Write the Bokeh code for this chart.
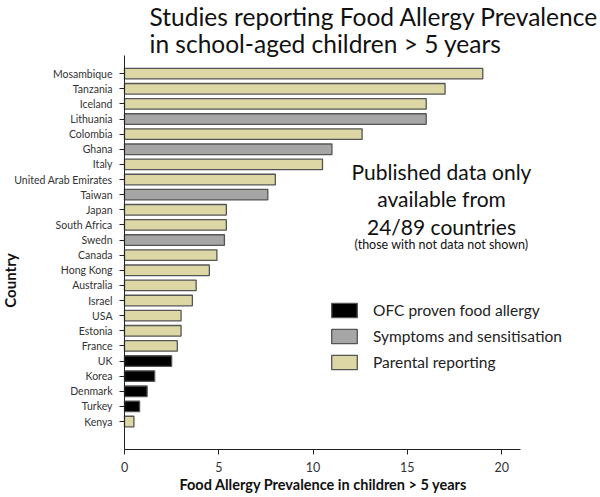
from bokeh.plotting import figure
from bokeh.models import ColumnDataSource, Label, Range1d, FixedTicker, Legend, LegendItem
from bokeh.embed import file_html
from bokeh.resources import INLINE
import math

# ---- data (top to bottom as in the chart) ----
countries = ["Mosambique", "Tanzania", "Iceland", "Lithuania", "Colombia", "Ghana", "Italy",
             "United Arab Emirates", "Taiwan", "Japan", "South Africa", "Swedn", "Canada",
             "Hong Kong", "Australia", "Israel", "USA", "Estonia", "France", "UK", "Korea",
             "Denmark", "Turkey", "Kenya"]
prevalence = [19.0, 17.0, 16.0, 16.0, 12.6, 11.0, 10.5, 8.0, 7.6, 5.4, 5.4, 5.3, 4.9,
              4.5, 3.8, 3.6, 3.0, 3.0, 2.8, 2.5, 1.6, 1.2, 0.8, 0.5]
method = ["P", "P", "P", "S", "P", "S", "P", "P", "S", "P", "P", "S", "P",
          "P", "P", "P", "P", "P", "P", "O", "O", "O", "O", "P"]
method_codes = ["O", "S", "P"]
method_labels = ["OFC proven food allergy", "Symptoms and sensitisation", "Parental reporting"]
method_colors = ["#000000", "#A6A6A6", "#DDD7A6"]
x_ticks = [0, 5, 10, 15, 20]

FONT = "Lato"
W, H = 600, 497
n = len(countries)
ypos = [n - 1 - i for i in range(n)]

# layout of the plotting area in pixels (axes drawn at fixed locations)
AX_LEFT, AX_RIGHT, AX_TOP, AX_BOTTOM = 124, 520, 55, 449
XA0, XA1 = 0.0, 21.0          # x-axis extent in data units
YA0, YA1 = -1.85, 24.2        # y-axis extent in data units
PX = (AX_RIGHT - AX_LEFT) / (XA1 - XA0)
PY = (AX_BOTTOM - AX_TOP) / (YA1 - YA0)

def dx(px):
    return XA0 + (px - AX_LEFT) / PX

def dy(py):
    return YA1 - (py - AX_TOP) / PY

p = figure(width=W, height=H, output_backend="svg", toolbar_location=None, title=None,
           x_range=Range1d(dx(0), dx(W)), y_range=Range1d(dy(H), dy(0)),
           min_border=0, min_border_left=0, min_border_right=0,
           min_border_top=0, min_border_bottom=0)
p.outline_line_color = None
p.xgrid.visible = False
p.ygrid.visible = False
p.background_fill_color = "white"
p.border_fill_color = "white"

items = []
for code, lab_txt, col in zip(method_codes, method_labels, method_colors):
    idx = [i for i in range(n) if method[i] == code]
    src = ColumnDataSource(dict(y=[ypos[i] for i in idx], v=[prevalence[i] for i in idx]))
    r = p.hbar(y="y", right="v", left=0, height=0.7, source=src, fill_color=col,
               line_color="#555555", line_width=1.3)
    items.append(LegendItem(label=lab_txt, renderers=[r]))

legend = Legend(items=items, location=(328, H - 371), padding=0, margin=0, spacing=8,
                glyph_width=32, glyph_height=18, label_standoff=13,
                label_text_font=FONT, label_text_font_size="15.5px", label_text_color="#222222",
                border_line_alpha=0, background_fill_alpha=0)
p.add_layout(legend, "center")

# axes at fixed locations
p.xaxis.fixed_location = YA0
p.xaxis.bounds = (XA0, XA1)
p.xaxis.ticker = FixedTicker(ticks=x_ticks)
p.xaxis.minor_tick_line_color = None
p.xaxis.major_tick_out = 5
p.xaxis.major_tick_in = 0
p.xaxis.major_label_standoff = 7
p.xaxis.major_label_text_font = FONT
p.xaxis.major_label_text_font_size = "12.5px"
p.xaxis.major_label_text_color = "#333333"
p.xaxis.axis_line_color = "#222222"
p.xaxis.major_tick_line_color = "#222222"

p.yaxis.fixed_location = XA0
p.yaxis.bounds = (YA0, YA1)
p.yaxis.ticker = FixedTicker(ticks=ypos)
p.yaxis.major_label_overrides = {ypos[i]: countries[i] for i in range(n)}
p.yaxis.minor_tick_line_color = None
p.yaxis.major_tick_out = 5
p.yaxis.major_tick_in = 0
p.yaxis.major_label_standoff = 7
p.yaxis.major_label_text_font = FONT
p.yaxis.major_label_text_font_size = "10.5px"
p.yaxis.major_label_text_color = "#333333"
p.yaxis.axis_line_color = "#222222"
p.yaxis.major_tick_line_color = "#222222"


def lab(text, px, py, size, align="left", bold=False, angle=0.0, color="#111111"):
    p.add_layout(Label(x=dx(px), y=dy(py), text=text, text_font=FONT, text_font_size=size,
                       text_align=align, text_baseline="middle", angle=angle,
                       text_font_style="bold" if bold else "normal", text_color=color))

# title
lab("Studies reporting Food Allergy Prevalence", 149, 16, "24.5px")
lab("in school-aged children > 5 years", 149, 43, "24.5px")
# annotation
lab("Published data only", 441, 171, "21px", align="center")
lab("available from", 441, 198, "21px", align="center")
lab("24/89 countries", 441, 226, "21px", align="center")
lab("(those with not data not shown)", 441, 244, "12.5px", align="center")
# axis titles
lab("Food Allergy Prevalence in children > 5 years", 323, 484, "14.5px", align="center",
    bold=True)
lab("Country", 9, 280, "15px", align="center", bold=True, angle=math.pi / 2)

open("out.html", "w").write(file_html(p, INLINE))
